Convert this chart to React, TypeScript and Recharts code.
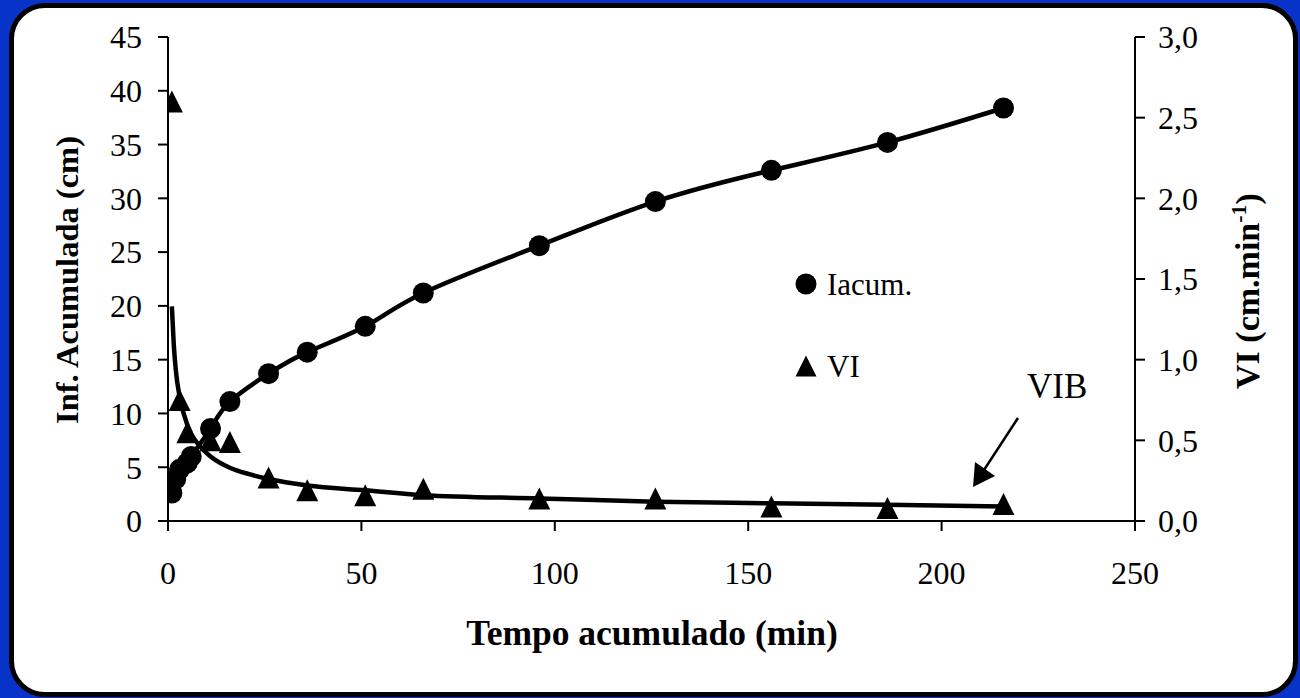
import {
  ComposedChart,
  Line,
  XAxis,
  YAxis,
  Legend,
} from "recharts";

// tempo acumulado (min) x infiltração acumulada (cm)
const tempoIacum = [1, 2, 3, 5, 6, 11, 16, 26, 36, 51, 66, 96, 126, 156, 186, 216];
const iacum = [2.6, 3.9, 4.8, 5.4, 6.0, 8.6, 11.1, 13.7, 15.7, 18.1, 21.2, 25.6, 29.7, 32.6, 35.2, 38.4];

// velocidade de infiltração medida (cm/min)
const tempoVI = [1, 3, 5, 11, 16, 26, 36, 51, 66, 96, 126, 156, 186, 216];
const vi = [2.6, 0.75, 0.55, 0.5, 0.49, 0.27, 0.19, 0.16, 0.2, 0.14, 0.14, 0.09, 0.08, 0.105];

// curva ajustada de VI
const tempoCurva = [1, 1.5, 2, 3, 4, 6, 8, 11, 16, 21, 26, 36, 51, 66, 96, 126, 156, 186, 216];
const viCurva = [1.33, 1.09, 0.94, 0.77, 0.67, 0.54, 0.47, 0.4, 0.33, 0.29, 0.26, 0.22, 0.19, 0.16, 0.14, 0.12, 0.11, 0.1, 0.09];

const xTicks = [0, 50, 100, 150, 200, 250];
const leftTicks = [0, 5, 10, 15, 20, 25, 30, 35, 40, 45];
const rightTicks = [0, 0.5, 1, 1.5, 2, 2.5, 3];

const iacumData = tempoIacum.map((t, i) => ({ t, iacum: iacum[i] }));
const viData = tempoVI.map((t, i) => ({ t, vi: vi[i] }));
const curvaData = tempoCurva.map((t, i) => ({ t, viCurva: viCurva[i] }));

const FONT = "'Liberation Serif', 'Times New Roman', serif";
const tickStyle = { fontFamily: FONT, fontSize: 32, fill: "#000" };

// eslint-disable-next-line @typescript-eslint/no-explicit-any
const CircleDot = (props: any) => {
  const { cx, cy, index } = props;
  if (cx == null || cy == null) return <g key={`c-${index}`} />;
  return <circle key={`c-${index}`} cx={cx} cy={cy} r={10.5} fill="#000" />;
};

// eslint-disable-next-line @typescript-eslint/no-explicit-any
const TriangleDot = (props: any) => {
  const { cx, cy, index } = props;
  if (cx == null || cy == null) return <g key={`t-${index}`} />;
  const h = 11;
  return (
    <path
      key={`t-${index}`}
      d={`M${cx},${cy - h} L${cx + h},${cy + h} L${cx - h},${cy + h} Z`}
      fill="#000"
    />
  );
};

const LegendBox = () => (
  <div style={{ fontFamily: FONT, fontSize: 31, color: "#000", lineHeight: 1 }}>
    <div style={{ display: "flex", alignItems: "center", height: 40 }}>
      <svg width={24} height={24} style={{ marginRight: 9 }}>
        <circle cx={12} cy={12} r={10.5} fill="#000" />
      </svg>
      <span>Iacum.</span>
    </div>
    <div style={{ display: "flex", alignItems: "center", height: 40, marginTop: 42 }}>
      <svg width={24} height={24} style={{ marginRight: 9 }}>
        <path d="M12,1.5 L22.5,22.5 L1.5,22.5 Z" fill="#000" />
      </svg>
      <span>VI</span>
    </div>
  </div>
);

export default function App() {
  return (
    <div
      style={{
        position: "fixed",
        left: 0,
        top: 0,
        width: 1300,
        height: 698,
        background: "#0833c8",
        overflow: "hidden",
      }}
    >
      <div
        style={{
          position: "absolute",
          left: 9,
          top: 3,
          width: 1289,
          height: 694,
          boxSizing: "border-box",
          border: "5px solid #000",
          borderRadius: 36,
          background: "#fff",
        }}
      />
      <div style={{ position: "absolute", left: 0, top: 0 }}>
        <ComposedChart
          width={1300}
          height={698}
          margin={{ top: 37, right: 0, bottom: 0, left: 0 }}
        >
          <XAxis
            dataKey="t"
            type="number"
            domain={[0, 250]}
            ticks={xTicks}
            allowDataOverflow
            height={177}
            tick={tickStyle}
            tickSize={10}
            tickMargin={30}
            axisLine={{ stroke: "#000", strokeWidth: 2 }}
            tickLine={{ stroke: "#000", strokeWidth: 2 }}
          />
          <YAxis
            yAxisId="left"
            orientation="left"
            type="number"
            domain={[0, 45]}
            ticks={leftTicks}
            allowDataOverflow
            width={168}
            tick={tickStyle}
            tickSize={10}
            tickMargin={16}
            axisLine={{ stroke: "#000", strokeWidth: 2 }}
            tickLine={{ stroke: "#000", strokeWidth: 2 }}
          />
          <YAxis
            yAxisId="right"
            orientation="right"
            type="number"
            domain={[0, 3]}
            ticks={rightTicks}
            allowDataOverflow
            width={165}
            tick={tickStyle}
            tickSize={10}
            tickMargin={13}
            tickFormatter={(v: number) => v.toFixed(1).replace(".", ",")}
            axisLine={{ stroke: "#000", strokeWidth: 2 }}
            tickLine={{ stroke: "#000", strokeWidth: 2 }}
          />
          <Line
            yAxisId="right"
            data={curvaData}
            dataKey="viCurva"
            type="monotone"
            stroke="#000"
            strokeWidth={4.5}
            dot={false}
            activeDot={false}
            isAnimationActive={false}
            legendType="none"
          />
          <Line
            yAxisId="right"
            data={viData}
            dataKey="vi"
            stroke="none"
            strokeWidth={0}
            dot={TriangleDot}
            activeDot={false}
            isAnimationActive={false}
          />
          <Line
            yAxisId="left"
            data={iacumData}
            dataKey="iacum"
            type="natural"
            stroke="#000"
            strokeWidth={4.5}
            dot={CircleDot}
            activeDot={false}
            isAnimationActive={false}
          />
          <Legend
            layout="vertical"
            align="center"
            verticalAlign="middle"
            content={() => <LegendBox />}
            wrapperStyle={{ position: "absolute", left: 794, top: 264, width: 200 }}
          />
        </ComposedChart>
      </div>
      <svg
        width={1300}
        height={698}
        style={{ position: "absolute", left: 0, top: 0, pointerEvents: "none" }}
      >
        <text
          x={652}
          y={645}
          textAnchor="middle"
          fontFamily={FONT}
          fontWeight="bold"
          fontSize={35.5}
          fill="#000"
        >
          Tempo acumulado (min)
        </text>
        <text
          x={78}
          y={280}
          transform="rotate(-90 78 280)"
          textAnchor="middle"
          fontFamily={FONT}
          fontWeight="bold"
          fontSize={32.5}
          fill="#000"
        >
          Inf. Acumulada (cm)
        </text>
        <text
          x={1259}
          y={291}
          transform="rotate(-90 1259 291)"
          textAnchor="middle"
          fontFamily={FONT}
          fontWeight="bold"
          fontSize={34}
          fill="#000"
        >
          VI (cm.min
          <tspan dy={-13} fontSize={22}>-1</tspan>
          <tspan dy={13}>)</tspan>
        </text>
        <text x={1027} y={398} fontFamily={FONT} fontSize={35} fill="#000">
          VIB
        </text>
        <line x1={1018} y1={418} x2={984} y2={470} stroke="#000" strokeWidth={2.5} />
        <path d="M973,487 L975,462 L995,476 Z" fill="#000" />
      </svg>
    </div>
  );
}
